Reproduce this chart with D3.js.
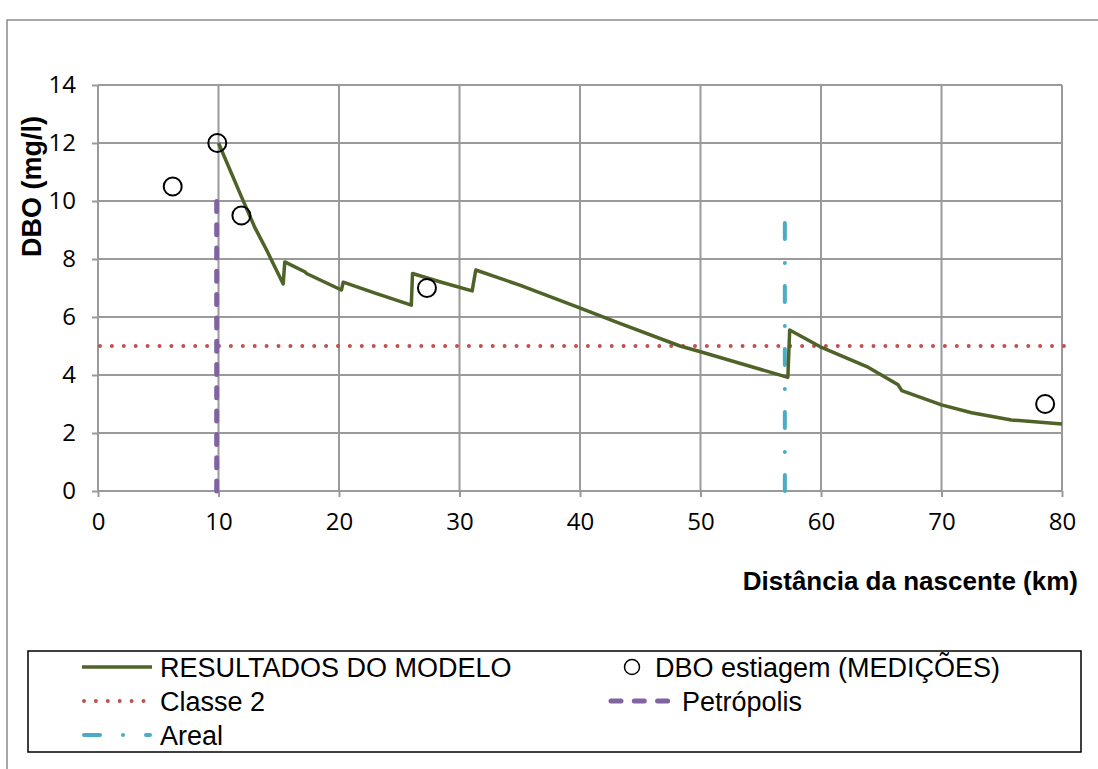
<!DOCTYPE html>
<html>
<head>
<meta charset="utf-8">
<script src="https://cdn.jsdelivr.net/npm/d3@7"></script>
<style>
  html, body { margin: 0; padding: 0; background: #fff; }
  svg { display: block; }
</style>
</head>
<body>
<svg id="chart" width="1098" height="769"></svg>
<script>
// ---- Data ----
const modelX = [10, 11.9, 13, 14, 15.37, 15.5, 17.2, 17.3, 20.2, 20.35, 23, 26.0, 26.1, 28.5, 31.05, 31.35, 35, 39.7, 43.3, 48.3, 50, 57.25, 57.4, 59.9, 63.8, 66.4, 66.7, 70, 72.5, 75.8, 80];
const modelY = [12, 10.15, 9.1, 8.3, 7.14, 7.9, 7.55, 7.5, 6.93, 7.2, 6.82, 6.41, 7.5, 7.2, 6.9, 7.62, 7.1, 6.36, 5.78, 5.0, 4.8, 3.92, 5.55, 4.98, 4.29, 3.66, 3.46, 2.97, 2.7, 2.45, 2.31];
const measX = [6.2, 9.9, 11.9, 27.3, 78.6];
const measY = [10.5, 12.0, 9.5, 7.0, 3.0];
const classeX = [0, 80];
const classeY = [5, 5];
const petroX = [9.85, 9.85];
const petroY = [0, 10];
const arealX = [57.0, 57.0];
const arealY = [0, 9.4];
const xTicks = [0, 10, 20, 30, 40, 50, 60, 70, 80];
const yTicks = [0, 2, 4, 6, 8, 10, 12, 14];

const legendItems = [
  {label: "RESULTADOS DO MODELO", type: "model", col: 0, row: 0},
  {label: "DBO estiagem (MEDIÇÕES)", type: "meas", col: 1, row: 0},
  {label: "Classe 2", type: "classe", col: 0, row: 1},
  {label: "Petrópolis", type: "petro", col: 1, row: 1},
  {label: "Areal", type: "areal", col: 0, row: 2}
];

const colors = {model: "#4F6228", classe: "#C0504D", petro: "#8064A2", areal: "#4BACC6", grid: "#9A9A9A"};
const arial = "'Liberation Sans', Arial, sans-serif";

const svg = d3.select("#chart");

// outer frame
svg.append("rect").attr("x", 7).attr("y", 20).attr("width", 1200).attr("height", 800)
  .attr("fill", "none").attr("stroke", "#8c8c8c").attr("stroke-width", 1.5);

const x = d3.scaleLinear().domain([0, 80]).range([98, 1062]);
const y = d3.scaleLinear().domain([0, 14]).range([491, 85]);

// gridlines
const g = svg.append("g");
g.selectAll("line.vg").data(xTicks.filter(d => d > 0)).join("line")
  .attr("x1", d => x(d)).attr("x2", d => x(d)).attr("y1", y(0)).attr("y2", y(14))
  .attr("stroke", colors.grid).attr("stroke-width", 2);
g.selectAll("line.hg").data(yTicks.filter(d => d > 0)).join("line")
  .attr("x1", x(0)).attr("x2", x(80)).attr("y1", d => y(d)).attr("y2", d => y(d))
  .attr("stroke", colors.grid).attr("stroke-width", 2);

// axes
const xAxis = d3.axisBottom(x).tickValues(xTicks).tickSize(6).tickPadding(16).tickFormat(d3.format("d"));
const yAxis = d3.axisLeft(y).tickValues(yTicks).tickSize(6).tickPadding(16).tickFormat(d3.format("d"));
const gx = svg.append("g").attr("transform", `translate(0,${y(0)})`).call(xAxis);
const gy = svg.append("g").attr("transform", `translate(${x(0)},0)`).call(yAxis);
[gx, gy].forEach(a => {
  a.attr("font-size", 24).attr("font-family", "'Open Sans', sans-serif");
  a.select(".domain").attr("stroke", colors.grid).attr("stroke-width", 2);
  a.selectAll(".tick line").attr("stroke", colors.grid).attr("stroke-width", 2);
  a.selectAll(".tick text").attr("fill", "#000").style("font-family", "'Open Sans', sans-serif").style("font-size", "24px");
});
gx.select(".domain").attr("d", `M${x(0)},0H${x(80)}`);
gy.select(".domain").attr("d", `M0,${y(0)}V${y(14)}`);

// axis titles
svg.append("text").attr("transform", `translate(31,${y(10.5)}) rotate(-90)`)
  .attr("text-anchor", "middle").attr("dy", "0.36em")
  .style("font-family", arial).style("font-weight", "bold").style("font-size", "27px")
  .text("DBO (mg/l)");
svg.append("text").attr("x", 1078).attr("y", 590).attr("text-anchor", "end")
  .style("font-family", arial).style("font-weight", "bold").style("font-size", "26px")
  .text("Distância da nascente (km)");

const line = d3.line().x(d => x(d[0])).y(d => y(d[1]));

// Classe 2
svg.append("path").datum(classeX.map((d, i) => [d, classeY[i]]))
  .attr("d", line).attr("fill", "none").attr("stroke", colors.classe)
  .attr("stroke-width", 4).attr("stroke-linecap", "round").attr("stroke-dasharray", "0,11.9")
  .attr("transform", "translate(2,0)");

// Petrópolis
svg.append("path").datum(petroX.map((d, i) => [d, petroY[i]]))
  .attr("d", line).attr("fill", "none").attr("stroke", colors.petro)
  .attr("stroke-width", 5).attr("stroke-linecap", "round").attr("stroke-dasharray", "10,13.3");

// Areal
svg.append("path").datum(arealX.map((d, i) => [d, arealY[i]]))
  .attr("d", line).attr("fill", "none").attr("stroke", colors.areal)
  .attr("stroke-width", 4).attr("stroke-linecap", "round").attr("stroke-dasharray", "16,23,0,24");

// Model
svg.append("path").datum(modelX.map((d, i) => [d, modelY[i]]))
  .attr("d", line).attr("fill", "none").attr("stroke", colors.model)
  .attr("stroke-width", 3.5).attr("stroke-linejoin", "round");

// Measurements
svg.selectAll("circle.meas").data(measX.map((d, i) => [d, measY[i]])).join("circle")
  .attr("cx", d => x(d[0])).attr("cy", d => y(d[1])).attr("r", 9)
  .attr("fill", "none").attr("stroke", "#000").attr("stroke-width", 2);

// Legend
svg.append("rect").attr("x", 28).attr("y", 651).attr("width", 1053).attr("height", 101)
  .attr("fill", "#fff").attr("stroke", "#000").attr("stroke-width", 1.5);
const rowY = [667, 701, 735];
const colSample = [[82, 152], [608, 668]];
const colText = [160, 682];
const lg = svg.append("g");
legendItems.forEach(it => {
  const yy = rowY[it.row];
  const [s0, s1] = colSample[it.col];
  let tx = colText[it.col];
  if (it.type === "model") {
    lg.append("line").attr("x1", s0).attr("x2", s1).attr("y1", yy).attr("y2", yy)
      .attr("stroke", colors.model).attr("stroke-width", 3.5);
  } else if (it.type === "classe") {
    lg.append("line").attr("x1", s0 + 2).attr("x2", s1).attr("y1", yy).attr("y2", yy)
      .attr("stroke", colors.classe).attr("stroke-width", 4).attr("stroke-linecap", "round").attr("stroke-dasharray", "0,11.9");
  } else if (it.type === "areal") {
    lg.append("line").attr("x1", s0 + 2).attr("x2", s1 - 2).attr("y1", yy).attr("y2", yy)
      .attr("stroke", colors.areal).attr("stroke-width", 4).attr("stroke-linecap", "round").attr("stroke-dasharray", "16,23,0,23");
  } else if (it.type === "petro") {
    lg.append("line").attr("x1", s0 + 3).attr("x2", s1).attr("y1", yy).attr("y2", yy)
      .attr("stroke", colors.petro).attr("stroke-width", 5).attr("stroke-linecap", "round").attr("stroke-dasharray", "10,13.3");
  } else if (it.type === "meas") {
    lg.append("circle").attr("cx", 632).attr("cy", yy).attr("r", 7.5)
      .attr("fill", "none").attr("stroke", "#000").attr("stroke-width", 1.5);
    tx = 655;
  }
  lg.append("text").attr("x", tx).attr("y", yy).attr("dy", "0.36em")
    .style("font-family", arial).style("font-size", "27px")
    .text(it.label);
});
</script>
</body>
</html>
